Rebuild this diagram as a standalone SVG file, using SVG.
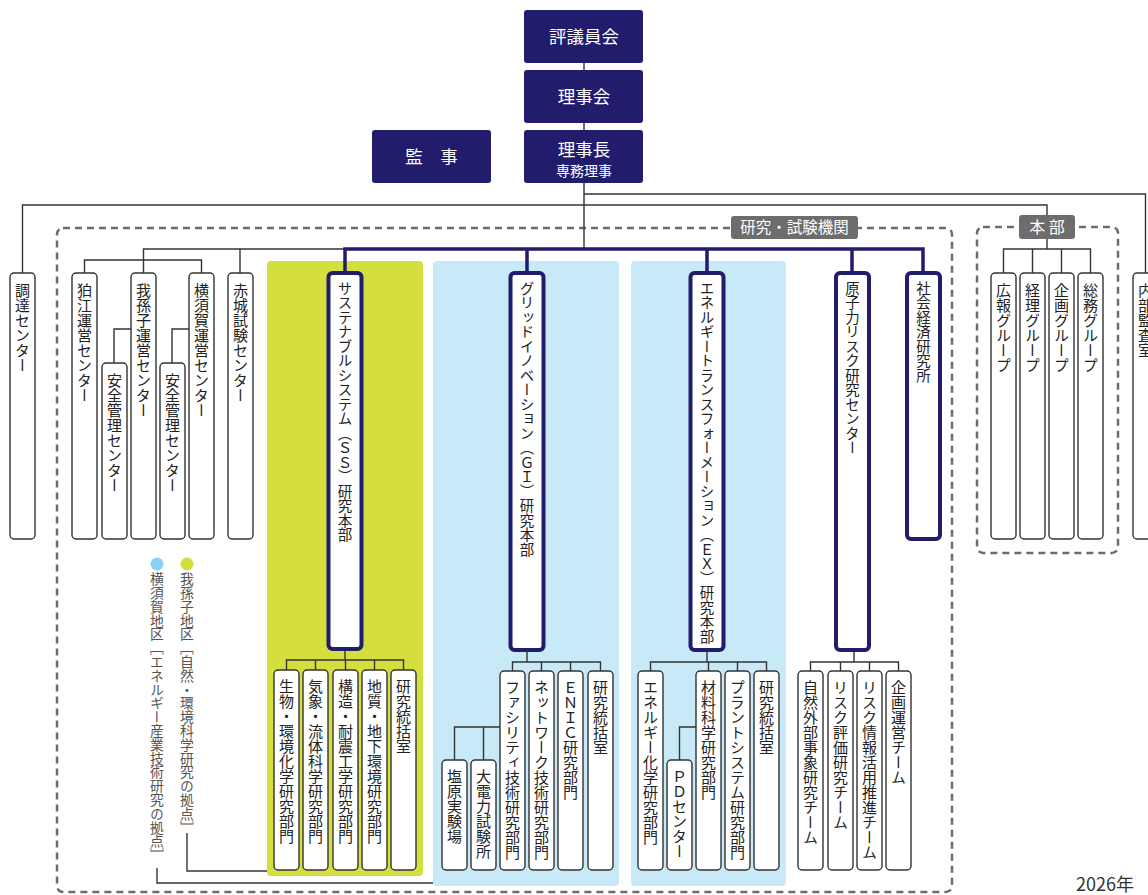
<svg xmlns="http://www.w3.org/2000/svg" width="1148" height="895" viewBox="0 0 1148 895">
<style>
.bg{fill:#ffffff}
.navy{fill:#211c6c}
.wt{fill:#ffffff;font-family:"Noto Sans CJK JP",sans-serif;text-anchor:middle}
.box{fill:#ffffff;stroke:#333333;stroke-width:1.4}
.nbox{fill:#ffffff;stroke:#211c6c;stroke-width:4}
.vt{writing-mode:vertical-rl;font-family:"Noto Sans CJK JP",sans-serif;font-size:15px;fill:#222222}
.vtn{writing-mode:vertical-rl;font-family:"Noto Sans CJK JP",sans-serif;font-size:14.5px;fill:#222222}
.lg{writing-mode:vertical-rl;font-family:"Noto Sans CJK JP",sans-serif;font-size:13.8px;fill:#555555}
.ln{fill:none;stroke:#333333;stroke-width:1.4}
.nl{fill:none;stroke:#211c6c;stroke-width:3.5}
.dash{fill:none;stroke:#6d6d6d;stroke-width:2.5;stroke-dasharray:7 5}
.lbl{fill:#6d6d6d}
.green{fill:#d4de3f}
.blue{fill:#c8e9f8}
</style>
<rect class="bg" x="0" y="0" width="1148" height="895"/>

<!-- regions -->
<g id="regions">
  <rect class="dash" x="57" y="228" width="895" height="664" rx="6"/>
  <rect class="dash" x="977" y="227" width="141" height="326" rx="6"/>
  <rect class="green" x="267" y="261" width="156" height="615" rx="4"/>
  <rect class="blue" x="433" y="261" width="186" height="625" rx="4"/>
  <rect class="blue" x="631" y="261" width="155" height="625" rx="4"/>
</g>

<!-- connectors -->
<g id="connectors">
  <path class="ln" d="M584 63V70M584 123V130M584 183V249"/>
  <path class="ln" d="M584 194H1145.5V273"/>
  <path class="ln" d="M22.5 273V205H1047V215"/>
  <path class="ln" d="M1047 239V249M1003.5 273V249H1090.5V273M1032.5 249V273M1061.5 249V273"/>
  <path class="ln" d="M345 249H143.5V273M84.5 273V260H201.5V273M240 249V273"/>
  <path class="ln" d="M131 329H114V363M189 329H172V363"/>
  <path class="nl" d="M345 273V249H923V273M527 249V273M707 249V273M852 249V273"/>
  <!-- SS children -->
  <path class="ln" d="M345 651V660M286.5 670V660H403.5V670M315.5 660V670M345.5 660V670M374.5 660V670"/>
  <!-- GI children -->
  <path class="ln" d="M527 652V662M512.5 671V662H600.5V671M541.5 662V671M570.5 662V671"/>
  <path class="ln" d="M500 727H454.5V760M483.5 727V760"/>
  <!-- EX children -->
  <path class="ln" d="M707 652V662M650.5 671V662H766.5V671M708.5 662V671M737.5 662V671"/>
  <path class="ln" d="M696 727H679.5V760"/>
  <!-- Nuclear children -->
  <path class="ln" d="M854 652V662M810.5 671V662H898.5V671M840.5 662V671M869.5 662V671"/>
  <!-- legend lines -->
  <path class="ln" d="M187 833V871H267"/>
  <path class="ln" d="M157 868V883H433"/>
</g>

<!-- labels on dashed boxes -->
<g id="label-research">
  <rect class="lbl" x="731" y="216" width="127" height="23" rx="3"/>
  <text class="wt" x="794.5" y="233" font-size="15.5">研究・試験機関</text>
</g>
<g id="label-honbu">
  <rect class="lbl" x="1019" y="215" width="56" height="24" rx="3"/>
  <text class="wt" x="1047" y="233" font-size="16">本 部</text>
</g>

<!-- top nodes -->
<g id="n-hyogiinkai">
  <rect class="navy" x="524" y="10" width="119" height="53" rx="3"/>
  <text class="wt" x="584" y="43" font-size="17.5">評議員会</text>
</g>
<g id="n-rijikai">
  <rect class="navy" x="524" y="70" width="119" height="53" rx="3"/>
  <text class="wt" x="584" y="103" font-size="17.5">理事会</text>
</g>
<g id="n-rijicho">
  <rect class="navy" x="524" y="130" width="119" height="53" rx="3"/>
  <text class="wt" x="584" y="156" font-size="17.5">理事長</text>
  <text class="wt" x="584" y="176" font-size="14">専務理事</text>
</g>
<g id="n-kanji">
  <rect class="navy" x="372" y="130" width="119" height="53" rx="3"/>
  <text class="wt" x="431.5" y="163" font-size="17.5">監　事</text>
</g>

<!-- left boxes -->
<g id="n-chotatsu"><rect class="box" x="10" y="273" width="25" height="266" rx="4"/><text class="vt" x="22.5" y="283">調達センター</text></g>
<g id="n-komae"><rect class="box" x="72" y="273" width="25" height="266" rx="4"/><text class="vt" x="84.5" y="283">狛江運営センター</text></g>
<g id="n-abiko"><rect class="box" x="131" y="273" width="25" height="266" rx="4"/><text class="vt" x="143.5" y="283">我孫子運営センター</text></g>
<g id="n-anzen1"><rect class="box" x="102" y="363" width="25" height="176" rx="4"/><text class="vt" x="114.5" y="373">安全管理センター</text></g>
<g id="n-yokosuka"><rect class="box" x="189" y="273" width="25" height="266" rx="4"/><text class="vt" x="201.5" y="283">横須賀運営センター</text></g>
<g id="n-anzen2"><rect class="box" x="160" y="363" width="25" height="176" rx="4"/><text class="vt" x="172.5" y="373">安全管理センター</text></g>
<g id="n-akagi"><rect class="box" x="228" y="273" width="25" height="266" rx="4"/><text class="vt" x="240.5" y="283">赤城試験センター</text></g>

<!-- research HQ boxes -->
<g id="n-ss"><rect class="nbox" x="328.5" y="273" width="33" height="376" rx="4"/><text class="vtn" x="345" y="281">サステナブルシステム（ＳＳ）研究本部</text></g>
<g id="n-gi"><rect class="nbox" x="510.5" y="273" width="33" height="377" rx="4"/><text class="vtn" x="527" y="281">グリッドイノベーション（ＧＩ）研究本部</text></g>
<g id="n-ex"><rect class="nbox" x="690.5" y="273" width="33" height="377" rx="4"/><text class="vtn" x="707" y="281">エネルギートランスフォーメーション（ＥＸ）研究本部</text></g>
<g id="n-nrrc"><rect class="nbox" x="836" y="273" width="33" height="377" rx="4"/><text class="vtn" x="852.5" y="281">原子力リスク研究センター</text></g>
<g id="n-serc"><rect class="nbox" x="907" y="273" width="33" height="266" rx="4"/><text class="vtn" x="923.5" y="281">社会経済研究所</text></g>

<!-- SS children -->
<g id="n-ss1"><rect class="box" x="274" y="670" width="25" height="200" rx="4"/><text class="vt" x="286.5" y="679">生物・環境化学研究部門</text></g>
<g id="n-ss2"><rect class="box" x="303" y="670" width="25" height="200" rx="4"/><text class="vt" x="315.5" y="679">気象・流体科学研究部門</text></g>
<g id="n-ss3"><rect class="box" x="333" y="670" width="25" height="200" rx="4"/><text class="vt" x="345.5" y="679">構造・耐震工学研究部門</text></g>
<g id="n-ss4"><rect class="box" x="362" y="670" width="25" height="200" rx="4"/><text class="vt" x="374.5" y="679">地質・地下環境研究部門</text></g>
<g id="n-ss5"><rect class="box" x="391" y="670" width="25" height="200" rx="4"/><text class="vt" x="403.5" y="679">研究統括室</text></g>

<!-- GI children -->
<g id="n-gi1"><rect class="box" x="500" y="671" width="25" height="199" rx="4"/><text class="vt" x="512.5" y="680">ファシリティ技術研究部門</text></g>
<g id="n-gi2"><rect class="box" x="529" y="671" width="25" height="199" rx="4"/><text class="vt" x="541.5" y="680">ネットワーク技術研究部門</text></g>
<g id="n-gi3"><rect class="box" x="558" y="671" width="25" height="199" rx="4"/><text class="vt" x="570.5" y="680">ＥＮＩＣ研究部門</text></g>
<g id="n-gi4"><rect class="box" x="588" y="671" width="25" height="199" rx="4"/><text class="vt" x="600.5" y="680">研究統括室</text></g>
<g id="n-shiobara"><rect class="box" x="442" y="760" width="25" height="110" rx="4"/><text class="vt" x="454.5" y="769">塩原実験場</text></g>
<g id="n-daidenryoku"><rect class="box" x="471" y="760" width="25" height="110" rx="4"/><text class="vt" x="483.5" y="769">大電力試験所</text></g>

<!-- EX children -->
<g id="n-ex1"><rect class="box" x="638" y="671" width="25" height="199" rx="4"/><text class="vt" x="650.5" y="680">エネルギー化学研究部門</text></g>
<g id="n-ex2"><rect class="box" x="696" y="671" width="25" height="199" rx="4"/><text class="vt" x="708.5" y="680">材料科学研究部門</text></g>
<g id="n-ex3"><rect class="box" x="725" y="671" width="25" height="199" rx="4"/><text class="vt" x="737.5" y="680">プラントシステム研究部門</text></g>
<g id="n-ex4"><rect class="box" x="754" y="671" width="25" height="199" rx="4"/><text class="vt" x="766.5" y="680">研究統括室</text></g>
<g id="n-pd"><rect class="box" x="667" y="760" width="25" height="110" rx="4"/><text class="vt" x="679.5" y="769">ＰＤセンター</text></g>

<!-- NRRC children -->
<g id="n-nr1"><rect class="box" x="798" y="671" width="25" height="199" rx="4"/><text class="vt" x="810.5" y="680">自然外部事象研究チーム</text></g>
<g id="n-nr2"><rect class="box" x="828" y="671" width="25" height="199" rx="4"/><text class="vt" x="840.5" y="680">リスク評価研究チーム</text></g>
<g id="n-nr3"><rect class="box" x="857" y="671" width="25" height="199" rx="4"/><text class="vt" x="869.5" y="680">リスク情報活用推進チーム</text></g>
<g id="n-nr4"><rect class="box" x="886" y="671" width="25" height="199" rx="4"/><text class="vt" x="898.5" y="680">企画運営チーム</text></g>

<!-- Honbu -->
<g id="n-koho"><rect class="box" x="991" y="273" width="25" height="266" rx="4"/><text class="vt" x="1003.5" y="283">広報グループ</text></g>
<g id="n-keiri"><rect class="box" x="1020" y="273" width="25" height="266" rx="4"/><text class="vt" x="1032.5" y="283">経理グループ</text></g>
<g id="n-kikaku"><rect class="box" x="1049" y="273" width="25" height="266" rx="4"/><text class="vt" x="1061.5" y="283">企画グループ</text></g>
<g id="n-somu"><rect class="box" x="1078" y="273" width="25" height="266" rx="4"/><text class="vt" x="1090.5" y="283">総務グループ</text></g>
<g id="n-naibu"><rect class="box" x="1133" y="273" width="25" height="266" rx="4"/><text class="vt" x="1145.5" y="283">内部監査室</text></g>

<!-- legend -->
<g id="legend-yokosuka">
  <circle cx="157" cy="564" r="6.5" fill="#86d3f5"/>
  <text class="lg" x="157" y="572">横須賀地区［エネルギー産業技術研究の拠点］</text>
</g>
<g id="legend-abiko">
  <circle cx="187" cy="564" r="6.5" fill="#d4de3f"/>
  <text class="lg" x="187" y="572">我孫子地区［自然・環境科学研究の拠点］</text>
</g>

<text x="1076" y="891" font-family="&quot;Noto Sans CJK JP&quot;,sans-serif" font-size="18" fill="#333333">2026年</text>
</svg>
